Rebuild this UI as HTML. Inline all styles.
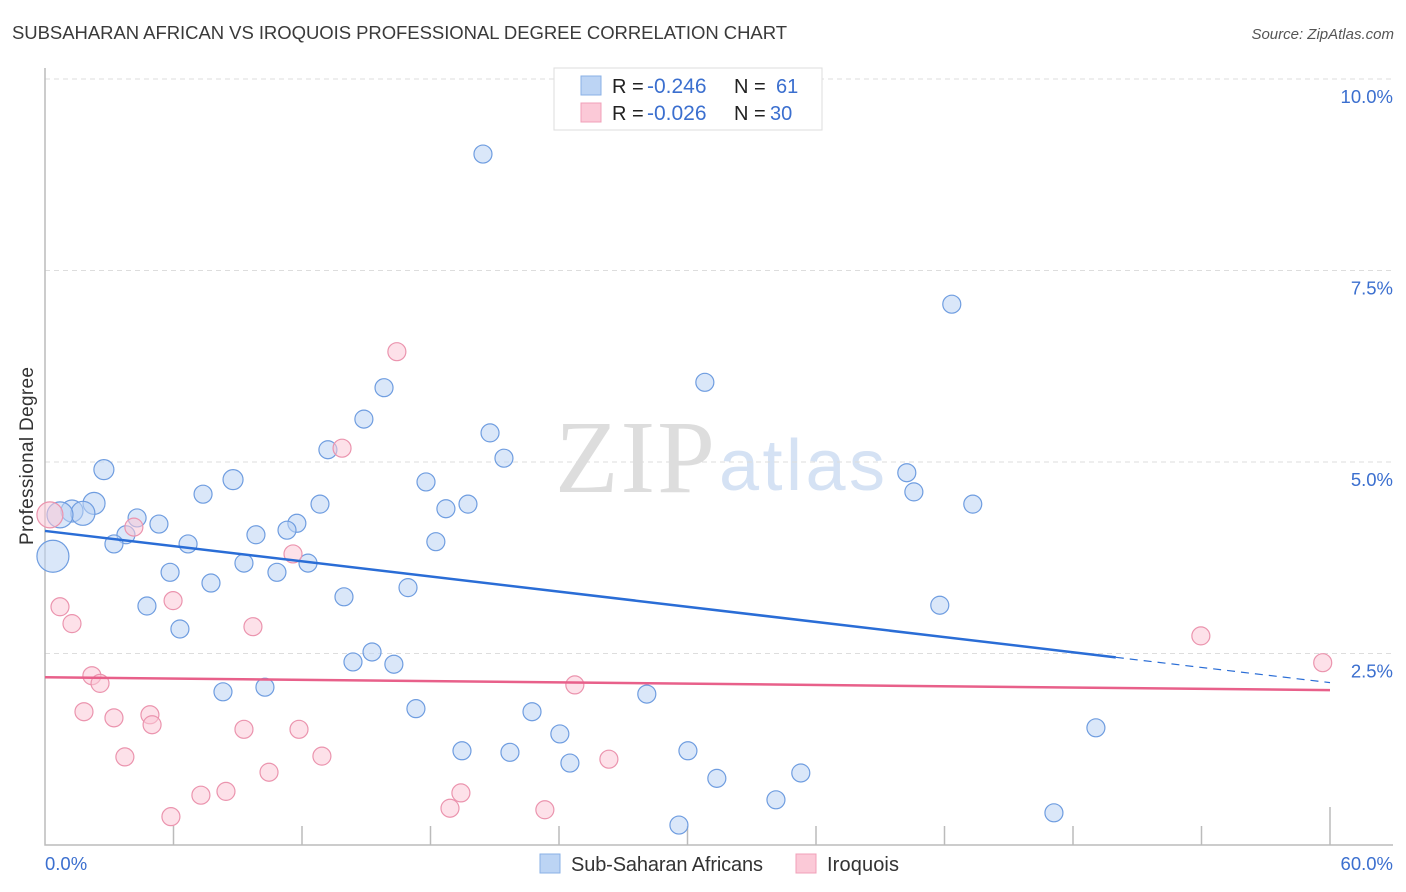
<!DOCTYPE html>
<html><head><meta charset="utf-8"><style>
body{margin:0;background:#fff;font-family:"Liberation Sans",sans-serif}
svg{display:block}
</style></head><body>
<svg id="c" width="1406" height="892">
<text x="12" y="39" font-size="18.5" fill="#3a3a3a" textLength="775">SUBSAHARAN AFRICAN VS IROQUOIS PROFESSIONAL DEGREE CORRELATION CHART</text>
<text x="1394" y="39" font-size="15" fill="#555" font-style="italic" text-anchor="end">Source: ZipAtlas.com</text>
<text x="33" y="456" font-size="19" fill="#333" text-anchor="middle" transform="rotate(-90 33 456)" textLength="178">Professional Degree</text>
<g>
<text x="635" y="492" font-size="104" fill="#ddd" font-family="Liberation Serif,serif" text-anchor="middle" textLength="160">ZIP</text>
<text x="802" y="490" font-size="72" fill="#d5e2f4" text-anchor="middle" textLength="166">atlas</text>
</g>
<g id="grid"></g><g id="axes"></g><g id="pts"></g><g id="lines"></g>
<g>
<rect x="554" y="68" width="268" height="62" fill="#fff" stroke="#ddd"/>
<rect x="581" y="76" width="20" height="19" fill="#bcd4f4" stroke="#8ab0e6"/>
<rect x="581" y="103" width="20" height="19" fill="#fbc9d7" stroke="#f0a0b8"/>
<text x="612" y="93" font-size="20" fill="#222">R =<tspan x="647" fill="#3b6fcf" font-size="21">-0.246</tspan><tspan x="734">N =</tspan><tspan x="776" fill="#3b6fcf">61</tspan></text>
<text x="612" y="120" font-size="20" fill="#222">R =<tspan x="647" fill="#3b6fcf" font-size="21">-0.026</tspan><tspan x="734">N =</tspan><tspan x="770" fill="#3b6fcf">30</tspan></text>
</g>
<g>
<rect x="540" y="854" width="20" height="19" fill="#bcd4f4" stroke="#8ab0e6"/>
<text x="571" y="871" font-size="20" fill="#333" textLength="192">Sub-Saharan Africans</text>
<rect x="796" y="854" width="20" height="19" fill="#fbc9d7" stroke="#f0a0b8"/>
<text x="827" y="871" font-size="20" fill="#333" textLength="72">Iroquois</text>
</g>
</svg>
<script>
const blueX=[20.45,42.34,30.81,15.83,14.89,20.78,13.21,21.43,2.75,8.78,40.24,17.79,40.57,7.38,2.29,12.84,19.75,43.32,18.72,1.26,1.77,0.70,4.30,5.32,11.76,11.30,3.78,9.85,3.22,6.68,18.25,9.29,12.28,0.37,5.84,10.83,7.75,16.95,13.96,4.76,41.78,6.30,15.27,14.38,16.29,8.31,10.27,28.10,17.32,22.74,24.04,19.47,21.71,30.02,49.07,24.51,31.37,35.29,34.13,47.11,29.60];
const blueY=[9.02,7.06,6.04,5.97,5.56,5.38,5.16,5.05,4.90,4.77,4.86,4.74,4.61,4.58,4.46,4.45,4.45,4.45,4.39,4.36,4.33,4.31,4.27,4.19,4.20,4.11,4.05,4.05,3.93,3.93,3.96,3.68,3.68,3.77,3.56,3.56,3.42,3.36,3.24,3.12,3.13,2.82,2.52,2.39,2.36,2.00,2.06,1.97,1.78,1.74,1.45,1.23,1.21,1.23,1.53,1.07,0.87,0.94,0.59,0.42,0.26];
const blueR=[9,9,9,9,9,9,9,9,10,10,9,9,9,9,11,9,9,9,9,11,12,13,9,9,9,9,9,9,9,9,9,9,9,16,9,9,9,9,9,9,9,9,9,9,9,9,9,9,9,9,9,9,9,9,9,9,9,9,9,9,9];
const pinkX=[16.43,13.87,11.58,0.70,5.98,1.26,9.71,4.15,0.23,2.19,2.57,24.74,53.97,59.66,1.82,3.22,4.90,5.00,9.29,11.86,3.73,12.93,26.33,10.46,8.45,7.28,19.42,18.91,23.34,5.88];
const pinkY=[6.44,5.18,3.80,3.11,3.19,2.89,2.85,4.15,4.31,2.21,2.11,2.09,2.73,2.38,1.74,1.66,1.70,1.57,1.51,1.51,1.15,1.16,1.12,0.95,0.70,0.65,0.68,0.48,0.46,0.37];
const pinkR=[9,9,9,9,9,9,9,9,13,9,9,9,9,9,9,9,9,9,9,9,9,9,9,9,9,9,9,9,9,9];
const yTicks=[2.5,5.0,7.5,10.0];
const xTickVals=[0,6,12,18,24,30,36,42,48,54,60];
const blueFit=[4.10,-0.0330]; // intercept, slope
const pinkFit=[2.19,-0.0028];
const X=v=>45+v*(1285/60), Y=v=>845-v*76.6;
const NS='http://www.w3.org/2000/svg';
function mk(t,a,p){const e=document.createElementNS(NS,t);for(const k in a)e.setAttribute(k,a[k]);p.appendChild(e);return e;}
const grid=document.getElementById('grid'),axes=document.getElementById('axes'),pts=document.getElementById('pts'),lines=document.getElementById('lines');
yTicks.forEach(v=>{
 const l=mk('line',{x1:45,x2:1393,y1:Y(v),y2:Y(v),stroke:'#ddd','stroke-dasharray':'5,4'},grid);
 
 
 const t=mk('text',{x:1393,y:Y(v)+24,'font-size':18.5,fill:'#3b6fcf','text-anchor':'end'},grid);
 t.textContent=v.toFixed(1)+'%';
 
 
});
const ax=mk('path',{d:'M45,68V845H1393',fill:'none',stroke:'#bbb','stroke-width':1.5},axes);


xTickVals.forEach((v,i)=>{ if(i===0)return;
 const t=mk('line',{x1:X(v),x2:X(v),y1:i===10?807:826,y2:845,stroke:'#bbb','stroke-width':1.5},axes);
 
 
});
[[0,'start'],[60,'end']].forEach(([v,a])=>{
 const t=mk('text',{x:v===0?45:1393,y:870,'font-size':18.5,fill:'#3b6fcf','text-anchor':a},axes);
 t.textContent=v.toFixed(1)+'%';
 
 
});
function draw(xs,ys,rs,fill,stroke,name){
 xs.forEach((x,i)=>{
  const c=mk('circle',{cx:X(x),cy:Y(ys[i]),r:rs[i],fill:fill,'fill-opacity':0.55,stroke:stroke,'stroke-width':1.2},pts);
  
  
 });
}
draw(blueX,blueY,blueR,'#bcd4f4','#6f9de0','point-sub-saharan');
draw(pinkX,pinkY,pinkR,'#fbc9d7','#eb94ae','point-iroquois');
const f=(p,x)=>p[0]+p[1]*x;
let l=mk('line',{x1:X(0),y1:Y(f(blueFit,0)),x2:X(50),y2:Y(f(blueFit,50)),stroke:'#2a6dd6','stroke-width':2.5},lines);


l=mk('line',{x1:X(50),y1:Y(f(blueFit,50)),x2:X(60),y2:Y(f(blueFit,60)),stroke:'#2a6dd6','stroke-width':1.2,'stroke-dasharray':'8,6'},lines);


l=mk('line',{x1:X(0),y1:Y(f(pinkFit,0)),x2:X(60),y2:Y(f(pinkFit,60)),stroke:'#e8608a','stroke-width':2.5},lines);


</script>
</body></html>
